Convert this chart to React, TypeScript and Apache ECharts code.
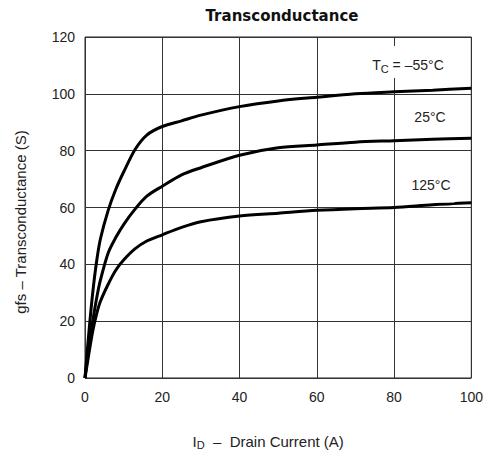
import React, { useEffect, useRef } from "react";
import * as echarts from "echarts";

const xs = [0, 1, 2, 3, 4, 6, 8, 10, 13, 16, 20, 25, 30, 40, 50, 60, 70, 80, 90, 100];
const gfsM55 = [0, 16, 30, 41, 49, 59, 66.5, 72.5, 80.5, 85.5, 88.5, 90.5, 92.5, 95.5, 97.5, 98.8, 100, 100.7, 101.3, 102];
const gfs25 = [0, 11, 20, 28, 34.5, 44, 49.5, 54, 59.5, 64, 67.5, 71.5, 74, 78.4, 81, 82, 83, 83.5, 84, 84.4];
const gfs125 = [0, 8.5, 16.5, 22.5, 27, 33, 38, 41.5, 45.5, 48.2, 50.4, 53, 55, 57, 58, 59, 59.6, 60, 61, 61.7];
const xTicks = [0, 20, 40, 60, 80, 100];
const yTicks = [0, 20, 40, 60, 80, 100, 120];

const FONT = "Liberation Sans, Arial, sans-serif";

export default function App() {
  const ref = useRef<HTMLDivElement>(null);
  useEffect(() => {
    if (!ref.current) return;
    const chart = echarts.init(ref.current, null, { renderer: "svg" });
    const mk = (ys: number[]) => xs.map((x, i) => [x, ys[i]]);
    const lineSeries = (name: string, ys: number[]) => ({
      name,
      type: "line",
      data: mk(ys),
      smooth: 0.3,
      showSymbol: false,
      lineStyle: { color: "#000", width: 3 },
      z: 5,
    });
    chart.setOption({
      animation: false,
      backgroundColor: "#fff",
      grid: {
        left: 85,
        right: 9,
        top: 37,
        bottom: 78,
        show: true,
        borderColor: "#222",
        borderWidth: 1,
        backgroundColor: "transparent",
      },
      xAxis: {
        type: "value",
        min: xTicks[0],
        max: xTicks[xTicks.length - 1],
        interval: 20,
        axisLine: { show: false },
        axisTick: { show: false },
        splitLine: { show: true, lineStyle: { color: "#333", width: 1 } },
        axisLabel: { margin: 12, fontFamily: FONT, fontSize: 14, color: "#222" },
        name: "{a|I}{s|D}{a|  –  Drain Current (A)}",
        nameLocation: "middle",
        nameGap: 54,
        nameTextStyle: {
          padding: [0, 20, 0, 0],
          rich: {
            a: { fontFamily: FONT, fontSize: 15, color: "#222" },
            s: { fontFamily: FONT, fontSize: 11, color: "#222", verticalAlign: "bottom", padding: [7, 0, 0, 0] },
          },
        },
      },
      yAxis: {
        type: "value",
        min: yTicks[0],
        max: yTicks[yTicks.length - 1],
        interval: 20,
        axisLine: { show: false },
        axisTick: { show: false },
        splitLine: { show: true, lineStyle: { color: "#333", width: 1 } },
        axisLabel: { margin: 10, fontFamily: FONT, fontSize: 14, color: "#222" },
      },
      series: [
        lineSeries("-55", gfsM55),
        lineSeries("25", gfs25),
        lineSeries("125", gfs125),
      ],
      graphic: [
        {
          type: "text",
          x: 282,
          y: 16,
          style: {
            text: "Transconductance",
            fontFamily: "DejaVu Sans, sans-serif",
            fontWeight: "bold",
            fontSize: 15,
            fill: "#111",
            align: "center",
            verticalAlign: "middle",
          },
        },
        {
          type: "text",
          x: 20,
          y: 222,
          rotation: Math.PI / 2,
          style: {
            text: "gfs – Transconductance (S)",
            fontFamily: FONT,
            fontSize: 15,
            fill: "#222",
            align: "center",
            verticalAlign: "middle",
          },
        },
        {
          type: "text",
          x: 408,
          y: 62,
          z: 100,
          style: {
            text: "{a|T}{s|C}{a| = –55°C}",
            align: "center",
            verticalAlign: "middle",
            backgroundColor: "#fff",
            padding: [10, 3, 4, 3],
            rich: {
              a: { fontFamily: FONT, fontSize: 14, fill: "#222" },
              s: { fontFamily: FONT, fontSize: 11, fill: "#222", padding: [7, 0, 0, 0] },
            },
          },
        },
        {
          type: "text",
          x: 430,
          y: 117,
          z: 100,
          style: {
            text: "25°C",
            fontFamily: FONT,
            fontSize: 14,
            fill: "#222",
            align: "center",
            verticalAlign: "middle",
            backgroundColor: "#fff",
            padding: [3, 3, 3, 3],
          },
        },
        {
          type: "text",
          x: 427,
          y: 185,
          z: 100,
          style: {
            text: "125°C",
            fontFamily: FONT,
            fontSize: 14,
            fill: "#222",
            align: "center",
            verticalAlign: "middle",
            backgroundColor: "#fff",
            padding: [15, 4, 6, 12],
          },
        },
      ],
    });
    return () => chart.dispose();
  }, []);
  return <div ref={ref} style={{ position: "fixed", left: 0, top: 0, width: 486, height: 456 }} />;
}
